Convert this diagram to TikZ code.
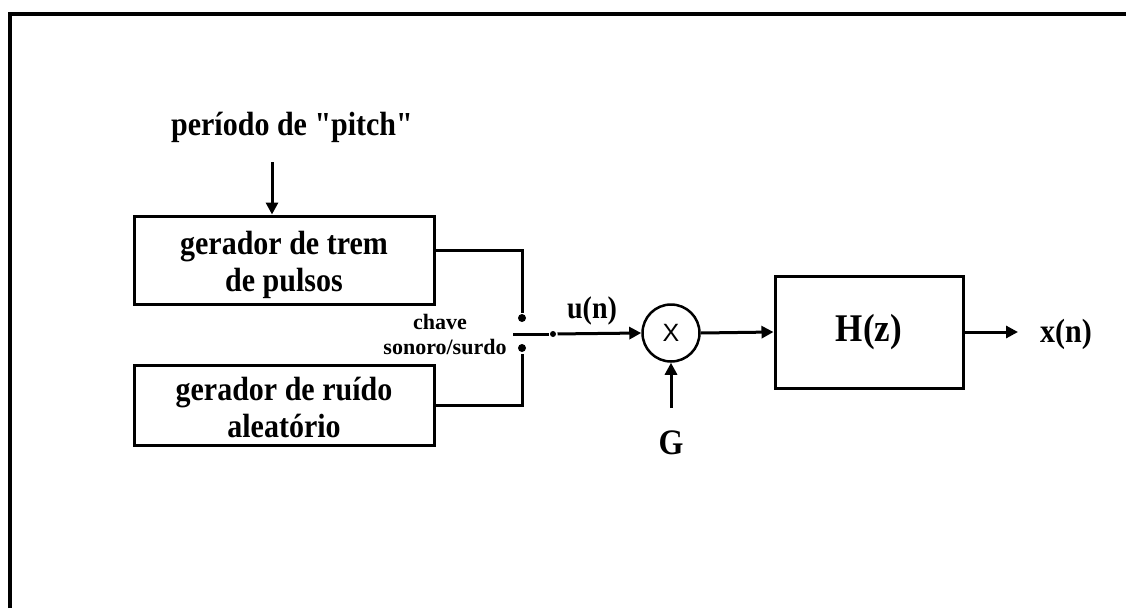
\documentclass[tikz,border=0pt]{standalone}
\usepackage{fontspec}
\usepackage{graphicx}
\newfontfamily\lserif{Liberation Serif}
\newfontfamily\sansx{Liberation Sans}
\usetikzlibrary{arrows.meta}
% slightly taller lettering
\newcommand{\tall}[1]{\scalebox{1}[1.12]{#1}}
\begin{document}
\begin{tikzpicture}[x=1pt,y=-1pt,
  line width=3pt,
  arr/.style={-{Triangle[length=12pt,width=12pt]}},
  blk/.style={draw, line width=3pt, inner sep=0pt},
  txt/.style={inner sep=0pt, font=\lserif\bfseries\fontsize{30}{37}\selectfont},
  small/.style={inner sep=0pt, anchor=base, font=\lserif\bfseries\fontsize{22}{22}\selectfont},
  contact/.style={circle, fill, inner sep=0pt, minimum size=8pt},
]
\useasboundingbox (0,0) rectangle (1126,608);
\fill[white] (0,0) rectangle (1126,608);

% outer frame (only the top and left edges fall inside the page)
\draw[line width=4.5pt] (10,608) -- (10,14) -- (1126,14);

% source generators
\node[blk, minimum width=300pt, minimum height=88pt] (gp) at (284,260) {};
\node[txt, align=center] (gpt) at ([yshift=-5pt]gp.center) {\tall{gerador de trem}\\\tall{de pulsos}};
\node[blk, minimum width=300pt, minimum height=80pt] (gr) at (284,405) {};
\node[txt, align=center] (grt) at ([yshift=-2pt]gr.center) {\tall{gerador de ru\'{\i}do}\\\tall{aleat\'orio}};

% pitch period input
\node[txt, anchor=base] (pitch) at (292,135) {\tall{per\'{\i}odo de "pitch"}};
\coordinate (pin) at (272,162);
\draw[arr] (pin) -- ([xshift=-12pt]gp.north);

% voiced/unvoiced switch
\node[contact] (c1) at (522,318) {};
\node[contact] (c2) at (522,348) {};
\coordinate (sw) at (513,334);
\node[contact, minimum size=6pt] (jn) at (553,334) {};
\draw ([yshift=10pt]gp.east) -| (c1);
\draw (gr.east) -| (c2);
\node[small] (ch1) at (440,329) {chave};
\node[small] (ch2) at (445,354) {sonoro/surdo};

% multiplier
\node[circle, draw, line width=2.5pt, minimum size=57pt, inner sep=0pt,
      font=\sansx\fontsize{25}{25}\selectfont] (mx) at (671,333) {X};
\draw (sw) -- (jn);
\draw[arr] (jn) -- (mx.west);
\node[txt, anchor=base, font=\lserif\bfseries\fontsize{28}{28}\selectfont] (un) at (592,318) {\tall{u(n)}};

% gain
\node[txt, anchor=base, font=\lserif\bfseries\fontsize{32}{32}\selectfont] (g) at (671,454) {\tall{G}};
\coordinate (gin) at (671,408);
\draw[arr] (gin) -- (mx.south);

% vocal tract filter
\node[blk, minimum width=188pt, minimum height=112pt,
      font=\lserif\bfseries\fontsize{35}{35}\selectfont] (hz) at (869,332) {\tall{H(z)}};
\draw[arr] (mx.east) -- (hz.west);
\coordinate (out) at (1018,332);
\draw[arr] (hz.east) -- (out);
\node[txt, anchor=base] (xn) at (1066,342) {\tall{x(n)}};
\end{tikzpicture}
\end{document}
